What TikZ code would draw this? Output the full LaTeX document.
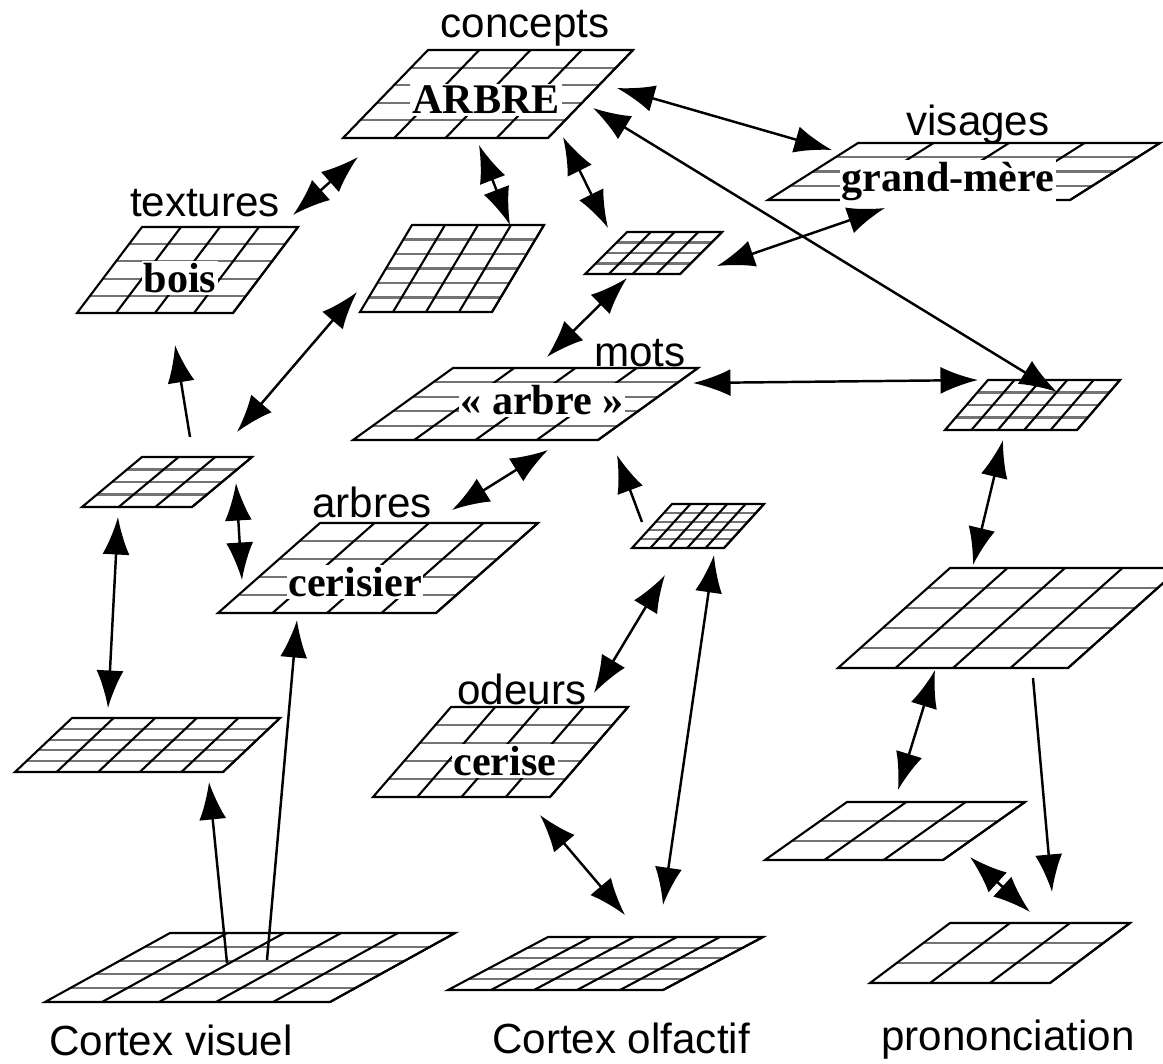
\documentclass[tikz,border=0pt]{standalone}
\usepackage{fontspec}
\setmainfont{Liberation Sans}
\newfontfamily\timesfont{Liberation Serif}
\usepackage{tikz}
\usetikzlibrary{arrows.meta,calc}
\tikzset{>={Latex[length=7.5mm,width=5.4mm]}}
\tikzset{
  couche/.style={line width=1.2pt, black},
  rang/.style={line width=1.2pt, black!55},
  lab/.style={font=\fontsize{24}{28}\selectfont, inner sep=1pt},
  mot/.style={font=\timesfont\bfseries\fontsize{24}{28}\selectfont, fill=white, inner sep=1pt},
  lien/.style={line width=1.4pt},
}
% lower left corner x, y, width, height, skew, columns, rows
\newcommand{\grille}[7]{%
  \foreach \k in {1,...,#7} {\pgfmathsetmacro{\f}{\k/#7}
    \draw[rang] ({#1+\f*#5},{#2-\f*#4}) -- ++(#3,0);}
  \foreach \k in {1,...,#6} {\pgfmathsetmacro{\f}{\k/#6}
    \draw[couche] ({#1+\f*#3},#2) -- ++(#5,-#4);}
  \draw[couche] (#1,#2) -- ++(#3,0) -- ++(#5,-#4) -- ++(-#3,0) -- cycle;
}

\begin{document}
\begin{tikzpicture}[x=0.02cm,y=-0.02cm]
            \useasboundingbox (0,0) rectangle (1163,1063);

            % couches
            \grille{343}{138}{205}{88}{85}{4}{5}
            \grille{768}{200}{302}{57}{90}{4}{4}
            \grille{77}{313}{156}{86}{65}{4}{5}
            \grille{360}{312}{132}{87}{52}{4}{6}
            \grille{585}{274}{95}{42}{42}{4}{4}
            \grille{353}{440}{245}{72}{100}{4}{5}
            \grille{945}{430}{132}{50}{43}{5}{4}
            \grille{82}{507}{110}{50}{60}{3}{4}
            \grille{218}{613}{218}{90}{102}{4}{5}
            \grille{632}{548}{92}{44}{40}{5}{5}
            \grille{838}{668}{230}{100}{112}{4}{5}
            \grille{15}{772}{208}{54}{57}{5}{5}
            \grille{373}{797}{177}{90}{78}{4}{5}
            \grille{765}{860}{178}{58}{82}{3}{3}
            \grille{870}{983}{180}{60}{80}{3}{3}
            \grille{45}{1002}{285}{69}{125}{5}{5}
            \grille{448}{990}{215}{53}{100}{5}{5}

            % textes
            \node[lab] (concepts) at (525,28) {concepts};
            \node[lab] (visages) at (978,125) {visages};
            \node[lab] (textures) at (205,203) {textures};
            \node[lab] (mots) at (640,353) {mots};
            \node[lab] (arbres) at (372,502) {arbres};
            \node[lab] (odeurs) at (522,689) {odeurs};
            \node[lab] (visuel) at (171,1040) {Cortex visuel};
            \node[lab] (olfactif) at (621,1038) {Cortex olfactif};
            \node[lab] (prononc) at (1008,1040) {prononciation};

            \node[mot] (ARBRE) at (486,100) {ARBRE};
            \node[mot] (grandmere) at (948,181) {grand-mère};
            \node[mot] (bois) at (180,278) {bois};
            \node[mot] (motarbre) at (542,400) {« arbre »};
            \node[mot] (cerisier) at (355,582) {cerisier};
            \node[mot] (cerise) at (505,761) {cerise};

            % bouts des fleches
            \coordinate (a1) at (617,88);   \coordinate (a2) at (832,150);
            \coordinate (b1) at (593,108);  \coordinate (b2) at (1057,392);
            \coordinate (c1) at (293,215);  \coordinate (c2) at (358,157);
            \coordinate (d1) at (479,145);  \coordinate (d2) at (510,225);
            \coordinate (e1) at (563,137);  \coordinate (e2) at (608,228);
            \coordinate (f1) at (885,208);  \coordinate (f2) at (717,266);
            \coordinate (g1) at (627,278);  \coordinate (g2) at (547,357);
            \coordinate (h1) at (190,437);  \coordinate (h2) at (175,345);
            \coordinate (i1) at (357,292);  \coordinate (i2) at (237,432);
            \coordinate (j1) at (693,383);  \coordinate (j2) at (978,380);
            \coordinate (k1) at (548,450);  \coordinate (k2) at (452,510);
            \coordinate (l1) at (642,522);  \coordinate (l2) at (617,455);
            \coordinate (m1) at (236,483);  \coordinate (m2) at (242,580);
            \coordinate (n1) at (118,517);  \coordinate (n2) at (108,708);
            \coordinate (o1) at (1003,440); \coordinate (o2) at (973,565);
            \coordinate (p1) at (665,575);  \coordinate (p2) at (594,693);
            \coordinate (q1) at (714,555);  \coordinate (q2) at (663,905);
            \coordinate (r1) at (227,963);  \coordinate (r2) at (209,782);
            \coordinate (s1) at (267,960);  \coordinate (s2) at (297,620);
            \coordinate (t1) at (540,815);  \coordinate (t2) at (625,915);
            \coordinate (u1) at (935,670);  \coordinate (u2) at (898,790);
            \coordinate (v1) at (1033,678); \coordinate (v2) at (1052,892);
            \coordinate (w1) at (970,857);  \coordinate (w2) at (1030,912);

            % fleches
            \draw[lien,<->] (a1) -- (a2);
            \draw[lien,<->] (b1) -- (b2);
            \draw[lien,<->] (c1) -- (c2);
            \draw[lien,<->] (d1) -- (d2);
            \draw[lien,<->] (e1) -- (e2);
            \draw[lien,<->] (f1) -- (f2);
            \draw[lien,<->] (g1) -- (g2);
            \draw[lien,->] (h1) -- (h2);
            \draw[lien,<->] (i1) -- (i2);
            \draw[lien,<->] (j1) -- (j2);
            \draw[lien,<->] (k1) -- (k2);
            \draw[lien,->] (l1) -- (l2);
            \draw[lien,<->] (m1) -- (m2);
            \draw[lien,<->] (n1) -- (n2);
            \draw[lien,<->] (o1) -- (o2);
            \draw[lien,<->] (p1) -- (p2);
            \draw[lien,<->] (q1) -- (q2);
            \draw[lien,->] (r1) -- (r2);
            \draw[lien,->] (s1) -- (s2);
            \draw[lien,<->] (t1) -- (t2);
            \draw[lien,<->] (u1) -- (u2);
            \draw[lien,->] (v1) -- (v2);
            \draw[lien,<->] (w1) -- (w2);
\end{tikzpicture}
\end{document}
